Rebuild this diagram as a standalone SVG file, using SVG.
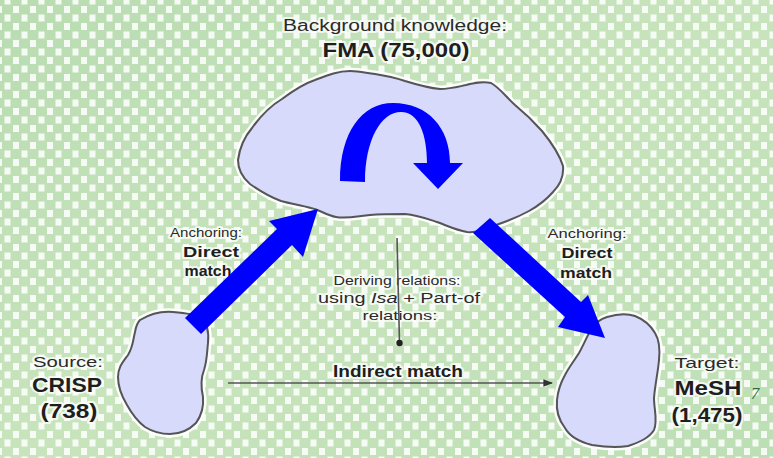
<svg xmlns="http://www.w3.org/2000/svg" width="773" height="458" viewBox="0 0 773 458">
  <defs>
    <linearGradient id="bg" x1="0" y1="0" x2="1" y2="1">
      <stop offset="0" stop-color="#b9dcb1"/>
      <stop offset="0.5" stop-color="#c8e4bd"/>
      <stop offset="1" stop-color="#bddfb5"/>
    </linearGradient>
    <pattern id="checks" x="13" y="6" width="17" height="17" patternUnits="userSpaceOnUse">
      <rect x="0" y="0" width="6" height="7" fill="#ffffff" opacity="0.85"/>
      <rect x="8.5" y="8.5" width="6" height="7" fill="#ffffff" opacity="0.85"/>
    </pattern>
    <marker id="tip" viewBox="0 0 10 10" refX="9" refY="5" markerWidth="6" markerHeight="6" orient="auto">
      <path d="M0,1 L10,5 L0,9 Z" fill="#333"/>
    </marker>
    <marker id="dot" viewBox="0 0 10 10" refX="5" refY="5" markerWidth="5" markerHeight="5" orient="auto">
      <circle cx="5" cy="5" r="4" fill="#222"/>
    </marker>
  </defs>
  <style>
    .blob-halo { fill: none; stroke: #ffffff; stroke-width: 7; stroke-linejoin: round; opacity: 0.9; }
    .blob { fill: #d7dafb; stroke: #555555; stroke-width: 2; stroke-linejoin: round; }
    .lbl { font-family: "Liberation Sans", Arial, sans-serif; fill: #2a2a2a; text-anchor: middle;
           stroke: #ffffff; stroke-width: 4; stroke-opacity: 0.75; stroke-linejoin: round; paint-order: stroke; }
    .b { font-weight: bold; fill: #1e1e1e; }
    .arrow { fill: #0000ff; }
    .thin { stroke: #555; stroke-width: 1.6; fill: none; }
  </style>

  <!-- backdrop -->
  <rect width="773" height="458" fill="url(#bg)"/>
  <rect width="773" height="458" fill="url(#checks)"/>

  <!-- background knowledge: FMA -->
  <g id="fma">
    <path d="M238,160 C240,145 246,135 252,128 C262,114 272,105 282,99 C294,90 303,84 315,80 C328,75 338,71 350,71 C360,71 366,73 375,74 C388,76 396,78 405,81 C418,85 428,88 440,89 C450,89 457,87 466,85 C474,83 482,81 491,83 C500,88 506,97 515,105 C526,114 534,122 542,131 C551,142 559,153 563,166 C564,177 560,185 553,192 C546,200 538,206 529,211 C518,217 508,221 496,225 C486,229 477,233 467,232 C456,230 448,226 437,222 C425,218 417,215 405,214 C392,214 381,214 370,215 C358,216 347,219 336,217 C326,215 320,210 311,208 C300,205 292,204 281,201 C270,197 260,191 250,184 C243,178 238,170 238,160 Z" class="blob-halo"/>
    <path d="M238,160 C240,145 246,135 252,128 C262,114 272,105 282,99 C294,90 303,84 315,80 C328,75 338,71 350,71 C360,71 366,73 375,74 C388,76 396,78 405,81 C418,85 428,88 440,89 C450,89 457,87 466,85 C474,83 482,81 491,83 C500,88 506,97 515,105 C526,114 534,122 542,131 C551,142 559,153 563,166 C564,177 560,185 553,192 C546,200 538,206 529,211 C518,217 508,221 496,225 C486,229 477,233 467,232 C456,230 448,226 437,222 C425,218 417,215 405,214 C392,214 381,214 370,215 C358,216 347,219 336,217 C326,215 320,210 311,208 C300,205 292,204 281,201 C270,197 260,191 250,184 C243,178 238,170 238,160 Z" class="blob"/>
    <text class="lbl" x="395" y="31" font-size="16" textLength="224" lengthAdjust="spacingAndGlyphs">Background knowledge:</text>
    <text class="lbl b" x="396" y="57" font-size="20" textLength="147" lengthAdjust="spacingAndGlyphs">FMA (75,000)</text>
  </g>

  <!-- source: CRISP -->
  <g id="crisp">
    <path d="M140,320 C150,314 162,311 173,312 C186,313 195,314 201,318 C208,324 209,333 208,343 C207,352 207,361 204,370 C200,380 201,388 203,397 C204,408 201,416 196,423 C189,430 181,434 170,434 C161,434 153,432 145,427 C137,421 132,414 127,405 C121,395 118,387 118,377 C118,367 123,362 128,355 C133,347 133,340 135,332 C136,326 137,323 140,320 Z" class="blob-halo"/>
    <path d="M140,320 C150,314 162,311 173,312 C186,313 195,314 201,318 C208,324 209,333 208,343 C207,352 207,361 204,370 C200,380 201,388 203,397 C204,408 201,416 196,423 C189,430 181,434 170,434 C161,434 153,432 145,427 C137,421 132,414 127,405 C121,395 118,387 118,377 C118,367 123,362 128,355 C133,347 133,340 135,332 C136,326 137,323 140,320 Z" class="blob"/>
    <text class="lbl" x="68" y="367" font-size="15" textLength="70" lengthAdjust="spacingAndGlyphs">Source:</text>
    <text class="lbl b" x="67" y="392" font-size="21" textLength="70" lengthAdjust="spacingAndGlyphs">CRISP</text>
    <text class="lbl b" x="69" y="418" font-size="20" textLength="57" lengthAdjust="spacingAndGlyphs">(738)</text>
  </g>

  <!-- target: MeSH -->
  <g id="mesh">
    <path d="M607,317 C617,314 626,313 635,316 C645,320 651,326 655,333 C660,341 660,350 659,360 C658,372 655,385 654,398 C654,410 658,420 654,430 C649,438 640,442 628,446 C617,448 604,447 592,445 C580,442 570,437 565,428 C558,419 556,410 557,400 C558,390 561,382 565,375 C569,367 574,361 579,353 C584,344 587,336 592,328 C596,322 601,319 607,317 Z" class="blob-halo"/>
    <path d="M607,317 C617,314 626,313 635,316 C645,320 651,326 655,333 C660,341 660,350 659,360 C658,372 655,385 654,398 C654,410 658,420 654,430 C649,438 640,442 628,446 C617,448 604,447 592,445 C580,442 570,437 565,428 C558,419 556,410 557,400 C558,390 561,382 565,375 C569,367 574,361 579,353 C584,344 587,336 592,328 C596,322 601,319 607,317 Z" class="blob"/>
    <text class="lbl" x="707" y="368" font-size="15" textLength="65" lengthAdjust="spacingAndGlyphs">Target:</text>
    <text class="lbl b" x="708" y="395" font-size="20" textLength="67" lengthAdjust="spacingAndGlyphs">MeSH</text>
    <text class="lbl b" x="707" y="422" font-size="20" textLength="71" lengthAdjust="spacingAndGlyphs">(1,475)</text>
    <text x="755" y="399" font-family="Liberation Serif, serif" font-size="17" font-style="italic" fill="#2f6a3a" text-anchor="middle">7</text>
  </g>

  <!-- edge labels -->
  <g id="labels">
    <text class="lbl" x="206" y="237" font-size="13" textLength="72" lengthAdjust="spacingAndGlyphs">Anchoring:</text>
    <text class="lbl b" x="211" y="257" font-size="15" textLength="56" lengthAdjust="spacingAndGlyphs">Direct</text>
    <text class="lbl b" x="208" y="276" font-size="15" textLength="47" lengthAdjust="spacingAndGlyphs">match</text>

    <text class="lbl" x="587" y="238" font-size="13" textLength="79" lengthAdjust="spacingAndGlyphs">Anchoring:</text>
    <text class="lbl b" x="587" y="258" font-size="15" textLength="51" lengthAdjust="spacingAndGlyphs">Direct</text>
    <text class="lbl b" x="586" y="278" font-size="15" textLength="52" lengthAdjust="spacingAndGlyphs">match</text>

    <text class="lbl" x="397" y="285" font-size="13" textLength="127" lengthAdjust="spacingAndGlyphs">Deriving relations:</text>
    <text class="lbl" x="399" y="303" font-size="14" textLength="162" lengthAdjust="spacingAndGlyphs">using <tspan font-style="italic">Isa</tspan> + Part-of</text>
    <text class="lbl" x="400" y="320" font-size="13" textLength="75" lengthAdjust="spacingAndGlyphs">relations:</text>

    <text class="lbl b" x="398" y="377" font-size="17" textLength="130" lengthAdjust="spacingAndGlyphs">Indirect match</text>
  </g>

  <!-- connectors -->
  <g id="connectors">
    <!-- derivation inside FMA -->
    <line class="thin" x1="397" y1="238" x2="399.5" y2="343" marker-end="url(#dot)"/>
    <!-- indirect match -->
    <line class="thin" x1="228" y1="383" x2="552" y2="383" marker-end="url(#tip)"/>
    <!-- anchoring CRISP to FMA -->
    <polygon class="arrow" points="185,318 277,229 269,221 318,209 303,257 292,245 201,334"/>
    <!-- anchoring FMA to MeSH -->
    <polygon class="arrow" points="473,233 490,218 581,302 588,295 605,338 558,327 565,317"/>
    <!-- relation traversal within FMA -->
    <path class="arrow" d="M340,181 C340,132 362,103 393,103 C428,103 450,128 450,163 L463,163 L438,189 L413,163 L427,163 C427,135 419,112 401,112 C381,112 365,140 365,182 Z"/>
  </g>
</svg>
